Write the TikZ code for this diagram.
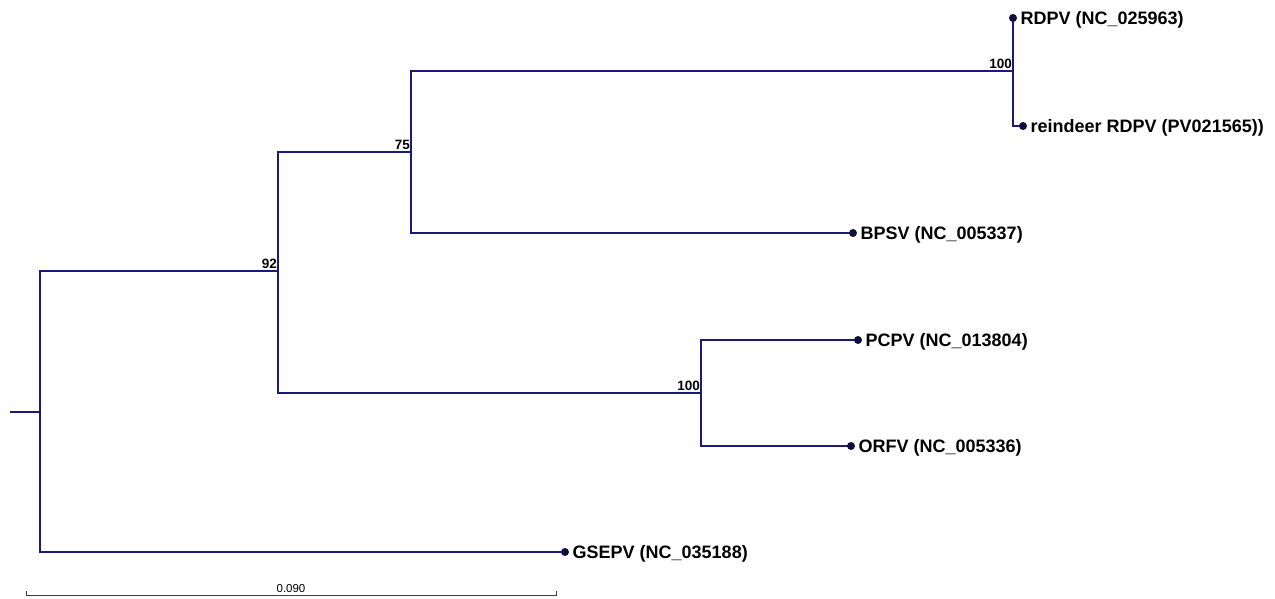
\documentclass[tikz,border=0pt]{standalone}
\usepackage{fontspec}
\setmainfont{Liberation Sans}
\usetikzlibrary{calc}
\definecolor{branch}{RGB}{26,26,122}
\definecolor{tipcol}{RGB}{16,16,58}
\definecolor{scalecol}{RGB}{60,60,60}
\tikzset{
  edge/.style={draw=branch, line width=2.8pt, line join=miter},
  tipdot/.style={circle, fill=tipcol, inner sep=0pt, minimum size=8pt},
  lab/.style={anchor=base west, inner sep=0pt, font=\bfseries\fontsize{18}{20}\selectfont},
  boot/.style={anchor=south east, inner sep=1pt, font=\bfseries\fontsize{13.5}{15}\selectfont},
  scalebar/.style={draw=scalecol, line width=0.9pt}
}
\begin{document}
\begin{tikzpicture}[x=1pt,y=-1pt]
\useasboundingbox[fill=white] (0,0) rectangle (1275,598);
% internal nodes
\coordinate (r0) at (10,412);
\coordinate (r) at (40,412);
\coordinate (n92) at (278,271);
\coordinate (n75) at (411,152);
\coordinate (nA) at (1013,71);
\coordinate (nB) at (701,393);
% tips
\coordinate (t1) at (1013,18);
\coordinate (t2) at (1023,126);
\coordinate (t3) at (853,233);
\coordinate (t4) at (858,340);
\coordinate (t5) at (851,446);
\coordinate (t6) at (565,552);
% branches
\draw[edge] (r0) -- (r);
\draw[edge] (n92) -| (r) |- (t6);
\draw[edge] (n75) -| (n92) |- (nB);
\draw[edge] (nA) -| (n75) |- (t3);
\draw[edge] (t1) |- (t2);
\draw[edge] (t4) -| (nB) |- (t5);
% tip dots
\foreach \t in {t1,t2,t3,t4,t5,t6} \node[tipdot] (d\t) at (\t) {};
% labels
\node[lab] (l1) at ([xshift=7.5pt,yshift=-6.5pt]t1) {RDPV (NC\_025963)};
\node[lab] (l2) at ([xshift=7.5pt,yshift=-6.5pt]t2) {reindeer RDPV (PV021565))};
\node[lab] (l3) at ([xshift=7.5pt,yshift=-6.5pt]t3) {BPSV (NC\_005337)};
\node[lab] (l4) at ([xshift=7.5pt,yshift=-6.5pt]t4) {PCPV (NC\_013804)};
\node[lab] (l5) at ([xshift=7.5pt,yshift=-6.5pt]t5) {ORFV (NC\_005336)};
\node[lab] (l6) at ([xshift=7.5pt,yshift=-6.5pt]t6) {GSEPV (NC\_035188)};
% bootstrap values
\node[boot] (b92) at ([yshift=1pt]n92) {92};
\node[boot] (b75) at ([yshift=1pt]n75) {75};
\node[boot] (bA) at ([yshift=1pt]nA) {100};
\node[boot] (bB) at ([yshift=1pt]nB) {100};
% scale bar
\coordinate (s1) at (26,595);
\coordinate (s2) at (556,595);
\coordinate (sm) at ($(s1)!0.5!(s2)$);
\draw[scalebar] ([yshift=4pt]s1) -- (s1) -- (s2) -- ([yshift=4pt]s2);
\node[anchor=south, inner sep=1pt, font=\fontsize{11.5}{13}\selectfont] (sl) at ([yshift=1pt]sm) {0.090};
\end{tikzpicture}
\end{document}
